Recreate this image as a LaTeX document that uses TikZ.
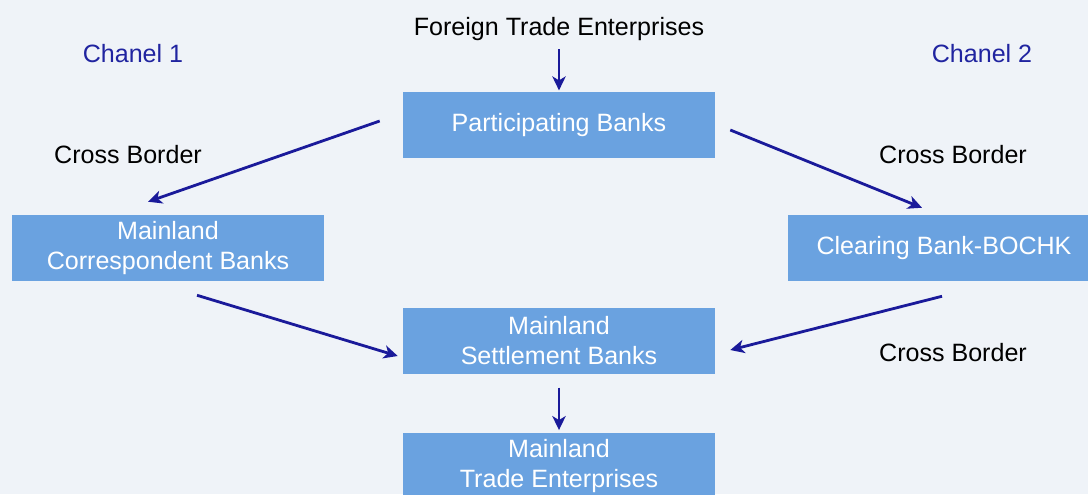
\documentclass[tikz,border=0pt]{standalone}
\usepackage{fontspec}
\setmainfont{Liberation Sans}
\usetikzlibrary{arrows.meta}
\definecolor{pagebg}{RGB}{239,243,248}
\definecolor{boxblue}{RGB}{106,162,224}
\definecolor{arrowblue}{RGB}{26,26,154}
\definecolor{chanblue}{RGB}{32,36,160}
\tikzset{
  bank/.style={fill=boxblue, text=white, minimum width=234pt, minimum height=49.5pt, align=center, inner sep=0pt},
  flow/.style={draw=arrowblue, line width=2.1pt, -{Stealth[length=10.5pt,width=10pt,inset=3pt]}},
  label/.style={font=\fontsize{18.8}{22.5}\selectfont},
  chan/.style={label, text=chanblue}
}
\begin{document}
\begin{tikzpicture}[x=0.75pt,y=0.75pt,yscale=-1,xscale=1,
  every node/.style={font=\fontsize{18.8}{22.5}\selectfont}]
% background
\fill[pagebg] (0,0) rectangle (1088,494);
\useasboundingbox (0,0) rectangle (1088,494);
\clip (0,0) rectangle (1088,494);

% Boxes
\node[bank] (part) at (559,125) {Participating Banks};
\node[bank] (corr) at (168,248) {Mainland\\Correspondent Banks};
\node[bank] (clear) at (944,248) {Clearing Bank-BOCHK};
\node[bank] (settle) at (559,341) {Mainland\\Settlement Banks};
\node[bank] (trade) at (559,466) {Mainland\\Trade Enterprises};

% Text Node
\node (foreign) at (559,29) {Foreign Trade Enterprises};
% Text Node
\node[chan] (chanA) at (133,54) {Chanel 1};
% Text Node
\node[chan] (chanB) at (982,54) {Chanel 2};
% Text Node
\node (crossA) at (128,155) {Cross Border};
% Text Node
\node (crossB) at (953,155) {Cross Border};
% Text Node
\node (crossC) at (953,353) {Cross Border};

% Arrows
\draw[flow] ([yshift=15]foreign.center) -- ([yshift=-1]part.north);
\draw[flow] ([shift={(-23,-4)}]part.west) -- ([shift={(-20,-13)}]corr.north);
\draw[flow] ([shift={(15,5)}]part.east) -- ([shift={(-22,-7)}]clear.north);
\draw[flow] ([shift={(29,14)}]corr.south) -- ([shift={(-5,15)}]settle.west);
\draw[flow] ([shift={(-2,15)}]clear.south) -- ([shift={(15,9)}]settle.east);
\draw[flow] ([yshift=10]settle.south) -- ([yshift=-2]trade.north);

\end{tikzpicture}
\end{document}
